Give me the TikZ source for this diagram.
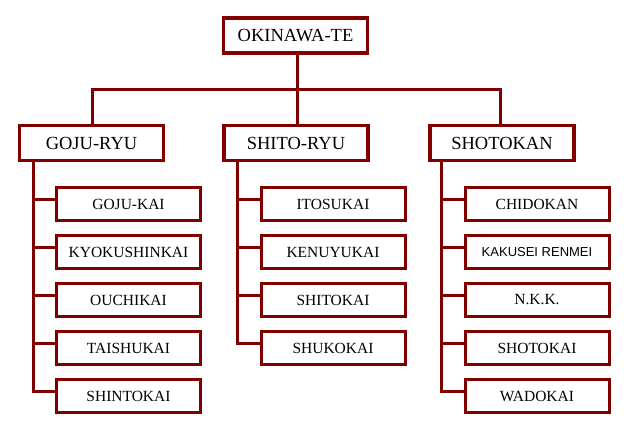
\documentclass[tikz,border=0pt]{standalone}
\usepackage{fontspec}
\setmainfont{Liberation Serif}
\newfontfamily\arialfont{Liberation Sans}
\definecolor{maroon}{HTML}{800000}
\begin{document}
\begin{tikzpicture}[x=1pt,y=-1pt,
  headbox/.style={draw=maroon,line width=3.5pt,fill=white,minimum width=144pt,minimum height=35pt,inner sep=0pt,font=\fontsize{18.5}{21}\selectfont},
  childbox/.style={draw=maroon,line width=3pt,fill=white,minimum width=144pt,minimum height=33pt,inner sep=0pt,font=\fontsize{15.5}{18}\selectfont},
  link/.style={draw=maroon,line width=3pt}]
\path[fill=white,use as bounding box] (0,0) rectangle (637,439);
% headings
\node[headbox] (ok) at (295.5,35.5) {OKINAWA-TE};
\node[headbox] (goju) at (91.5,143) {GOJU-RYU};
\node[headbox] (shito) at (296,143) {SHITO-RYU};
\node[headbox] (shotokan) at (502,143) {SHOTOKAN};
\coordinate (bl) at (92,89);
\coordinate (br) at (500,89);
\coordinate (bm) at (297,89);
% children
\node[childbox] (g1) at (128.5,204) {GOJU-KAI};
\node[childbox] (g2) at (128.5,252) {KYOKUSHINKAI};
\node[childbox] (g3) at (128.5,300) {OUCHIKAI};
\node[childbox] (g4) at (128.5,348) {TAISHUKAI};
\node[childbox] (g5) at (128.5,396) {SHINTOKAI};
\node[childbox] (s1) at (333,204) {ITOSUKAI};
\node[childbox] (s2) at (333,252) {KENUYUKAI};
\node[childbox] (s3) at (333,300) {SHITOKAI};
\node[childbox] (s4) at (333,348) {SHUKOKAI};
\node[childbox] (t1) at (537,204) {CHIDOKAN};
\node[childbox] (t2) at (537,252) {\arialfont\fontsize{13}{15}\selectfont KAKUSEI RENMEI};
\node[childbox] (t3) at (537,300) {N.K.K.};
\node[childbox] (t4) at (537,348) {SHOTOKAI};
\node[childbox] (t5) at (537,396) {WADOKAI};
\coordinate (gt) at (33,162);
\coordinate (st) at (237,162);
\coordinate (tt) at (441,162);
% connectors
\draw[link] (ok.south -| bm) -- (bm);
\draw[link,line join=miter] (goju.north -| bl) -- (bl) -- (br) -- (shotokan.north -| br);
\draw[link] (shito.north -| bm) -- (bm);
\draw[link] (gt) |- ([yshift=5pt]g5.west);
\foreach \c in {g1,g2,g3,g4} \draw[link] ([yshift=5pt]\c.west) -- ([yshift=5pt]\c.west -| gt);
\draw[link] (st) |- ([yshift=5pt]s4.west);
\foreach \c in {s1,s2,s3} \draw[link] ([yshift=5pt]\c.west) -- ([yshift=5pt]\c.west -| st);
\draw[link] (tt) |- ([yshift=5pt]t5.west);
\foreach \c in {t1,t2,t3,t4} \draw[link] ([yshift=5pt]\c.west) -- ([yshift=5pt]\c.west -| tt);
\end{tikzpicture}
\end{document}
